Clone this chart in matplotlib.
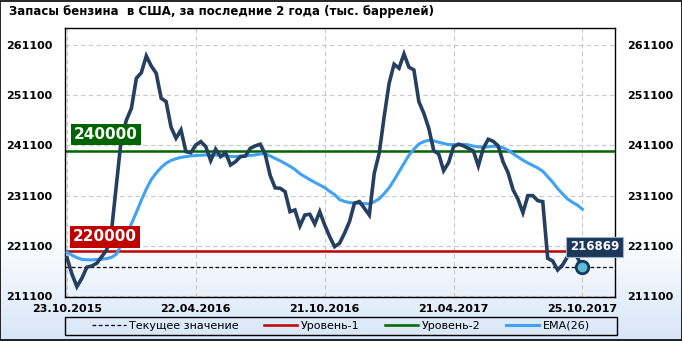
import numpy as np
import matplotlib.pyplot as plt
import matplotlib.transforms as mtransforms
from matplotlib.patches import Rectangle

# weekly data, 23.10.2015 - 25.10.2017
stocks = [218770, 215500, 213010, 214680, 216870, 217120, 217660, 218970, 220300, 224280,
          233560, 242830, 246150, 248470, 254440, 255550, 258870, 256880, 255430, 250460,
          249790, 244700, 242510, 244160, 239850, 239650, 241180, 241840, 240840, 238060,
          240320, 238850, 239650, 237200, 237860, 238850, 238990, 240520, 241000, 241320,
          239300, 235100, 232650, 232570, 231900, 227920, 228260, 225080, 227260, 227400,
          225470, 227920, 225270, 222950, 220960, 221640, 223630, 225930, 229590, 229920,
          228600, 227260, 235550, 239530, 246800, 253440, 257220, 256430, 259270, 256630,
          256090, 249790, 247480, 244500, 240050, 239390, 236070, 237660, 240840, 241320,
          241000, 240500, 240000, 237010, 240520, 242310, 241900, 241000, 237800, 235670,
          232300, 230400, 227720, 231100, 231100, 230100, 229910, 218650, 218120, 216330,
          217320, 218970, 220300, 218800, 216869]

ema26 = [219850, 219270, 218780, 218430, 218360, 218330, 218400, 218480, 218580, 218850,
         219500, 221500, 223550, 225500, 227800, 230200, 232400, 234300, 235600, 236700,
         237550, 238100, 238450, 238700, 238850, 239000, 239080, 239150, 239180, 239180,
         239170, 239080, 238980, 238910, 238860, 238920, 239000, 239090, 239200, 239400,
         239400, 238980, 238500, 238030, 237500, 236940, 236300, 235480, 234850, 234280,
         233740, 233220, 232700, 231950, 231300, 230320, 229950, 229730, 229650, 229590,
         229530, 229460, 229900, 230480, 231500, 232660, 234200, 235850, 237500, 239130,
         240320, 241370, 241840, 242100, 242000, 241710, 241480, 241250, 241230, 241300,
         241290, 241200, 240950, 240800, 240740, 240800, 240930, 240850, 240610, 240130,
         239460, 238800, 238150, 237600, 237100, 236600, 235950, 234880, 233770, 232520,
         231440, 230440, 229780, 229220, 228400]

level1 = 220000
level2 = 240000
date_ticks = [0, 26, 52, 78, 104]
date_labels = ['23.10.2015', '22.04.2016', '21.10.2016', '21.04.2017', '25.10.2017']
y_ticks = [211100, 221100, 231100, 241100, 251100, 261100]

weeks = np.arange(len(stocks))
current = stocks[-1]

fig = plt.figure(figsize=(6.82, 3.41), dpi=100)

# background: white on top, light blue towards the bottom
grad = np.ones((341, 1, 3))
top_c = np.array([1.0, 1.0, 1.0])
bot_c = np.array([0.84, 0.90, 0.97])
for i in range(341):
    t = max(0.0, (i - 235) / (341 - 235))
    grad[i, 0] = top_c * (1 - t) + bot_c * t
bg = fig.add_axes([0, 0, 1, 1], zorder=-10)
bg.imshow(grad, aspect='auto', extent=[0, 1, 0, 1])
bg.axis('off')
fig.patches.append(Rectangle((0.0007, 0.0015), 0.9986, 0.997, transform=fig.transFigure,
                             fill=False, edgecolor='black', linewidth=1.2))

ax = fig.add_axes([0.0949, 0.13, 0.807, 0.789])
ax.patch.set_alpha(0)

ax.plot(weeks, stocks, color='#243f60', linewidth=2.6, solid_joinstyle='miter', zorder=4)
ax.plot(weeks, ema26, color='#3fa2f2', linewidth=2.2, zorder=3, label='EMA(26)')
ax.axhline(current, color='black', linewidth=0.9, linestyle=(0, (3, 2)), zorder=2,
           label='Текущее значение')
ax.axhline(level1, color='#c00000', linewidth=1.8, zorder=2, label='Уровень-1')
ax.axhline(level2, color='#006400', linewidth=1.8, zorder=2, label='Уровень-2')
ax.plot(weeks[-1], current, 'o', markersize=9, markerfacecolor='#62bcd0',
        markeredgecolor='#17375e', markeredgewidth=2, zorder=6)

ax.set_xlim(-0.46, 110.6)
ax.set_ylim(211020, 264500)
ax.set_xticks(date_ticks)
ax.set_xticklabels(date_labels)
ax.set_yticks(y_ticks)
ax.set_yticklabels([str(v) for v in y_ticks])
ax.tick_params(axis='y', length=0, pad=9, labelright=True, labelsize=8)
ax.tick_params(axis='x', length=0, pad=5, labelsize=8)
for lab in ax.get_xticklabels() + ax.get_yticklabels():
    lab.set_fontweight('bold')
for lab in ax.get_yticklabels(which='both'):
    lab.set_fontweight('bold')
ax.grid(True, color='#c8c8c8', linestyle=(0, (4, 3)), linewidth=0.8)
for s in ax.spines.values():
    s.set_color('black')
    s.set_linewidth(1)

trans = mtransforms.blended_transform_factory(ax.transAxes, ax.transData)
ax.annotate(str(level2), xy=(0.0, level2), xycoords=trans, xytext=(9, 9),
            textcoords='offset pixels', ha='left', va='bottom', color='white',
            fontsize=11, fontweight='bold', zorder=7,
            bbox=dict(boxstyle='square,pad=0.2', facecolor='#006400', edgecolor='none'))
ax.annotate(str(level1), xy=(0.0, level1), xycoords=trans, xytext=(8, 7),
            textcoords='offset pixels', ha='left', va='bottom', color='white',
            fontsize=11, fontweight='bold', zorder=7,
            bbox=dict(boxstyle='square,pad=0.2', facecolor='#c00000', edgecolor='none'))
ax.annotate(str(current), xy=(weeks[-1], current), xytext=(12, 14),
            textcoords='offset pixels', ha='center', va='bottom', color='white',
            fontsize=8.5, fontweight='bold', zorder=8, annotation_clip=False,
            bbox=dict(boxstyle='square,pad=0.3', facecolor='#1c375a', edgecolor='#9db3cc',
                      linewidth=0.8))

fig.text(0.013, 0.965, 'Запасы бензина  в США, за последние 2 года (тыс. баррелей)',
         fontsize=8.5, fontweight='bold', ha='left', va='center')

# legend frame across the plot width, items centred inside
fig.patches.append(Rectangle((0.0953, 0.0176), 0.8095, 0.053, transform=fig.transFigure,
                             fill=False, edgecolor='black', linewidth=1))
handles, labels = ax.get_legend_handles_labels()
order = ['Текущее значение', 'Уровень-1', 'Уровень-2', 'EMA(26)']
hmap = dict(zip(labels, handles))
leg = fig.legend([hmap[o] for o in order], order, ncol=4, loc='center',
                 bbox_to_anchor=(0.0953 + 0.8095 / 2, 0.0176 + 0.053 / 2),
                 fontsize=8, frameon=False, borderpad=0.1,
                 handlelength=3.0, handletextpad=0.3, columnspacing=2.3)

fig.savefig('out.png', dpi=100)
